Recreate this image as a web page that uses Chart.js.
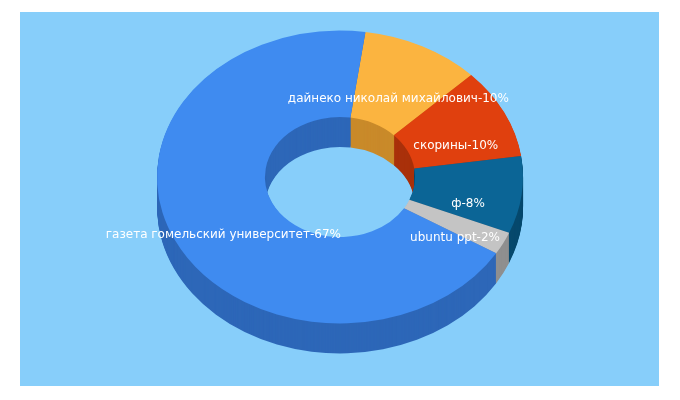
<!DOCTYPE html>
<html>
<head>
<meta charset="utf-8">
<script src="https://cdn.jsdelivr.net/npm/chart.js@4"></script>
<style>
  body { margin: 0; background: #fff; }
  canvas { display: block; }
</style>
</head>
<body>
<canvas id="chart" width="680" height="400"></canvas>
<script>
const labels = ['дайнеко николай михайлович', 'скорины', 'ф', 'ubuntu ppt', 'газета гомельский университет'];
const percents = [10, 10, 8, 2, 67];
const values = [10.5, 10, 8.5, 2.5, 68.5];
const colors = ['#fbb440', '#e0400e', '#0b6596', '#c4c4c4', '#3f8bf0'];
const sideColors = ['#c98a2a', '#a9300a', '#07496d', '#8f8f8f', '#2d67b8'];

const squash = 0.8, midY = 177, circleY = 200, depth = 30;

function applyTilt(ctx) {
    ctx.translate(0, midY);
    ctx.scale(1, squash);
    ctx.translate(0, -circleY);
}

const tiltPlugin = {
    id: 'tilt',
    beforeDraw(chart) {
        const ctx = chart.ctx;
        ctx.save();
        ctx.fillStyle = '#87cefa';
        ctx.fillRect(20, 12, 639, 374);
        ctx.restore();
    },
    beforeDatasetsDraw(chart) {
        const ctx = chart.ctx;
        const arcs = chart.getDatasetMeta(0).data;
        ctx.save();
        applyTilt(ctx);
        // side walls: stacked copies shifted down
        for (let d = depth; d > 0; d -= 1) {
            arcs.forEach((a, i) => {
                const dy = d / squash;
                ctx.beginPath();
                ctx.arc(a.x, a.y + dy, a.outerRadius, a.startAngle, a.endAngle);
                ctx.arc(a.x, a.y + dy, a.innerRadius, a.endAngle, a.startAngle, true);
                ctx.closePath();
                ctx.fillStyle = sideColors[i];
                ctx.fill();
            });
        }
        ctx.restore();
        ctx.save();
        applyTilt(ctx);
    },
    afterDatasetsDraw(chart) {
        const ctx = chart.ctx;
        ctx.restore();
        const arcs = chart.getDatasetMeta(0).data;
        ctx.save();
        ctx.font = '12px "DejaVu Sans"';
        ctx.fillStyle = '#ffffff';
        ctx.textAlign = 'center';
        ctx.textBaseline = 'middle';
        arcs.forEach((a, i) => {
            const mid = (a.startAngle + a.endAngle) / 2;
            const r = (a.innerRadius + a.outerRadius) / 2;
            const x = a.x + Math.cos(mid) * r;
            const y = midY + (a.y + Math.sin(mid) * r - circleY) * squash + 14;
            ctx.fillText(labels[i] + '-' + percents[i] + '%', x, y);
        });
        ctx.restore();
    }
};

new Chart(document.getElementById('chart'), {
    type: 'doughnut',
    data: {
        labels: labels,
        datasets: [{
            data: values,
            backgroundColor: colors,
            borderWidth: 0,
            hoverOffset: 0
        }]
    },
    options: {
        responsive: false,
        animation: false,
        cutout: '41%',
        rotation: 8,
        layout: { padding: { left: 157, right: 157, top: 17, bottom: 17 } },
        plugins: {
            legend: { display: false },
            tooltip: { enabled: false }
        }
    },
    plugins: [tiltPlugin]
});
</script>
</body>
</html>
